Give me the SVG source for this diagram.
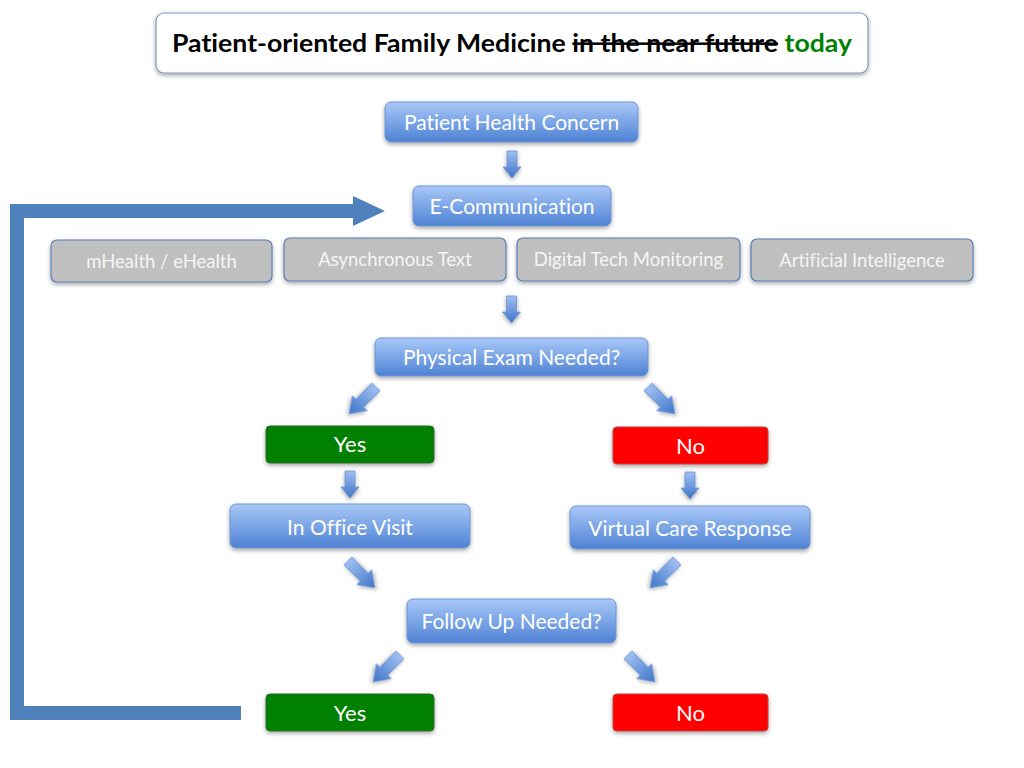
<svg xmlns="http://www.w3.org/2000/svg" width="1024" height="768" viewBox="0 0 1024 768">
<defs>
<linearGradient id="gBlue" x1="0" y1="0" x2="0" y2="1">
<stop offset="0" stop-color="#a9c8f7"/>
<stop offset="0.5" stop-color="#7ba5e6"/>
<stop offset="1" stop-color="#4f82d4"/>
</linearGradient>
<linearGradient id="gArrow" x1="0" y1="0" x2="0" y2="1">
<stop offset="0" stop-color="#9fc0f2"/>
<stop offset="1" stop-color="#3f74c8"/>
</linearGradient>
<filter id="sh" x="-10%" y="-20%" width="120%" height="160%">
<feDropShadow dx="0" dy="2" stdDeviation="2" flood-color="#000" flood-opacity="0.35"/>
</filter>
<path id="dArrow" d="M-5,0 H5 V16 H9 L0,27 L-9,16 H-5 Z"/>
<path id="diagArrow" d="M-5.5,0 H5.5 V23 H10.5 L0,38 L-10.5,23 H-5.5 Z"/>
</defs>
<style>
text{font-variant-ligatures:none}
.blue{fill:url(#gBlue);stroke:#6f95d0;stroke-width:1;filter:url(#sh)}
.gray{fill:#bfbfbf;stroke:#5b7fb8;stroke-width:1.2;filter:url(#sh)}
.green{fill:#008000;stroke:#2e6b2e;stroke-width:1;filter:url(#sh)}
.red{fill:#ff0000;stroke:#c04040;stroke-width:1;filter:url(#sh)}
.t{font-family:Lato,"Open Sans","Liberation Sans",sans-serif;fill:#fff;text-anchor:middle}
.tb{font-size:21px}
.ty{font-size:22px}
.tg{font-size:18.5px;fill:#f5f5f5}
.arr{fill:url(#gArrow);stroke:#6f95d0;stroke-width:0.8;filter:url(#sh)}
</style>

<g id="title">
<rect x="156" y="13" width="712" height="60" rx="8" fill="#fff" stroke="#7f97c4" stroke-width="1.2" filter="url(#sh)"/>
<text x="172" y="52" textLength="680" lengthAdjust="spacingAndGlyphs" font-family="Lato,'Liberation Sans',sans-serif" font-weight="bold" font-size="25" fill="#000">Patient-oriented Family Medicine <tspan text-decoration="line-through">in the near future</tspan> <tspan fill="#008000">today</tspan></text>
</g>

<g id="n_concern"><rect class="blue" x="385" y="102" width="253" height="40" rx="6"/><text class="t tb" x="511.5" y="130">Patient Health Concern</text></g>
<g id="n_ecomm"><rect class="blue" x="413" y="186" width="198" height="40" rx="6"/><text class="t tb" x="512" y="214">E-Communication</text></g>

<g id="n_mhealth"><rect class="gray" x="51" y="240" width="221" height="42" rx="6"/><text class="t tg" x="161.5" y="268">mHealth / eHealth</text></g>
<g id="n_async"><rect class="gray" x="284" y="238" width="222" height="43" rx="6"/><text class="t tg" x="395" y="266">Asynchronous Text</text></g>
<g id="n_digital"><rect class="gray" x="517" y="238" width="223" height="43" rx="6"/><text class="t tg" x="628.5" y="266">Digital Tech Monitoring</text></g>
<g id="n_ai"><rect class="gray" x="751" y="239" width="222" height="42" rx="6"/><text class="t tg" x="862" y="267">Artificial Intelligence</text></g>

<g id="n_exam"><rect class="blue" x="375" y="338" width="273" height="38" rx="6"/><text class="t tb" x="511.5" y="365">Physical Exam Needed?</text></g>

<g id="n_yes1"><rect class="green" x="266" y="426" width="168" height="37" rx="4"/><text class="t ty" x="350" y="452">Yes</text></g>
<g id="n_no1"><rect class="red" x="613" y="427" width="155" height="37" rx="4"/><text class="t ty" x="690.5" y="454">No</text></g>

<g id="n_office"><rect class="blue" x="230" y="504" width="240" height="44" rx="6"/><text class="t tb" x="350" y="535">In Office Visit</text></g>
<g id="n_virtual"><rect class="blue" x="570" y="506" width="240" height="43" rx="6"/><text class="t tb" x="690" y="536">Virtual Care Response</text></g>

<g id="n_follow"><rect class="blue" x="407" y="599" width="209" height="44" rx="6"/><text class="t tb" x="511.5" y="629">Follow Up Needed?</text></g>

<g id="n_yes2"><rect class="green" x="266" y="694" width="168" height="37" rx="4"/><text class="t ty" x="350" y="721">Yes</text></g>
<g id="n_no2"><rect class="red" x="613" y="694" width="155" height="37" rx="4"/><text class="t ty" x="690.5" y="721">No</text></g>

<g id="connectors">
<use href="#dArrow" class="arr" transform="translate(512,151)"/>
<use href="#dArrow" class="arr" transform="translate(511.5,296)"/>
<use href="#diagArrow" class="arr" transform="translate(376,387) rotate(45)"/>
<use href="#diagArrow" class="arr" transform="translate(648,387) rotate(-45)"/>
<use href="#dArrow" class="arr" transform="translate(350,471)"/>
<use href="#dArrow" class="arr" transform="translate(690,472)"/>
<use href="#diagArrow" class="arr" transform="translate(348,561) rotate(-45)"/>
<use href="#diagArrow" class="arr" transform="translate(677,561) rotate(45)"/>
<use href="#diagArrow" class="arr" transform="translate(400,655) rotate(45)"/>
<use href="#diagArrow" class="arr" transform="translate(628,655) rotate(-45)"/>
<path d="M241,713 H17 V211 H356" fill="none" stroke="#4f81bd" stroke-width="14"/>
<path d="M353,196 L385,211 L353,226 Z" fill="#4f81bd"/>
</g>
</svg>
